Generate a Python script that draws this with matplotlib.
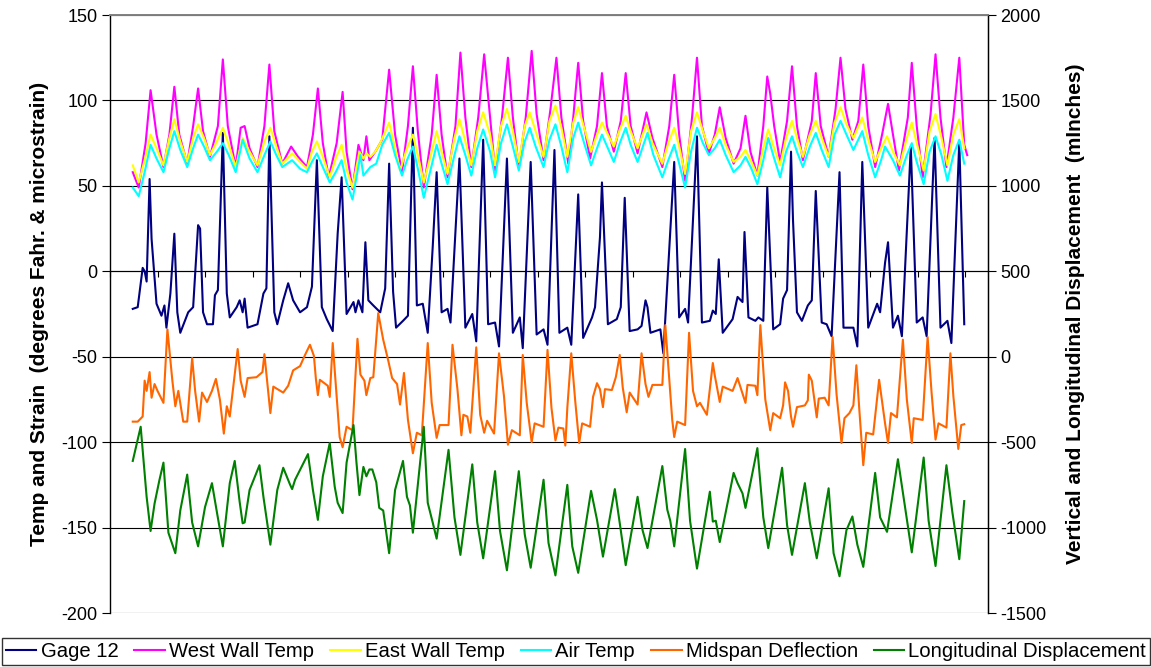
import matplotlib
matplotlib.use("Agg")
import matplotlib.pyplot as plt
import numpy as np

plt.rcParams['font.family'] = ['Liberation Sans', 'DejaVu Sans']
plt.rcParams['axes.unicode_minus'] = False

# ---------------- data (time in hours, values as read) ----------------
gage_t = [23,28,33,35,37,40,42,47,52,55,57,61,65,68,71,79,84,89,91,94,98,104,106,109,114,118,121,128,131,134,136,139,149,155,158,161,166,169,175,180,185,192,199,204,209,214,219,225,230,234,239,246,248,251,255,258,261,266,273,278,282,286,289,296,301,306,310,316,321,326,330,335,341,344,353,359,366,370,377,382,389,393,401,407,414,417,425,431,438,442,449,454,462,466,473,478,487,490,495,497,503,512,516,520,525,533,537,541,543,546,556,559,570,575,581,584,593,598,606,609,612,615,619,629,634,639,641,645,652,655,660,664,666,670,677,680,684,688,690,694,699,705,709,713,719,724,729,737,741,751,755,760,766,775,778,783,786,791,796,800,809,815,821,825,833,839,846,850,858,863]
gage_v = [-22,-21,2,0,-6,54,19,-19,-26,-20,-33,-13,22,-24,-36,-24,-21,27,25,-24,-31,-31,-14,-11,81,-13,-27,-21,-17,-24,-16,-33,-31,-13,-10,79,-24,-31,-17,-7,-17,-24,-21,-9,65,-21,-28,-35,22,55,-25,-18,-24,-17,-24,17,-17,-20,-24,-10,63,-12,-33,-29,-26,84,-20,-19,-36,14,58,-24,-22,-30,66,-33,-25,-41,77,-31,-30,-44,66,-36,-27,-45,64,-37,-34,-43,71,-36,-33,-43,45,-39,-27,-21,20,52,-31,-28,-21,43,-35,-34,-32,-17,-21,-36,-34,-48,64,-27,-22,-30,79,-30,-29,-23,-25,7,-36,-28,-15,-18,23,-27,-29,-27,-29,49,21,-34,-31,-16,-11,70,30,-24,-29,-20,-17,47,-30,-31,-38,58,-33,-33,-44,64,-33,-19,-24,5,17,-33,-26,-38,73,-30,-27,-38,78,-33,-29,-42,76,-31]

west_t = [23,29,36,41,47,54,60,65,70,78,84,89,94,101,109,114,119,127,132,136,141,149,156,161,166,174,183,190,199,205,210,215,221,229,235,239,245,251,256,259,262,268,275,282,288,295,301,306,311,317,325,330,335,341,349,354,359,365,372,378,384,389,396,402,407,413,420,426,431,438,445,451,456,463,468,473,478,485,492,497,502,509,516,521,526,533,542,548,558,565,570,575,581,588,593,598,605,611,616,622,630,637,642,647,654,660,664,667,671,677,684,689,694,700,709,713,718,726,733,738,743,750,756,761,766,773,780,786,791,797,806,810,815,821,829,834,839,845,852,858,863,866]
west_v = [58,49,75,106,80,61,80,108,80,63,85,107,82,67,85,124,85,61,84,85,72,61,85,121,82,63,73,67,61,80,107,75,55,75,105,70,48,74,65,79,65,70,77,118,80,58,85,120,82,49,80,115,80,55,85,128,90,61,90,127,90,59,90,125,90,61,90,129,92,65,95,125,90,63,90,122,88,66,85,116,85,70,88,116,85,69,93,78,61,85,115,80,53,90,125,85,69,80,96,78,63,72,91,70,56,85,114,104,85,64,88,120,85,65,88,116,85,67,95,125,95,77,88,121,85,61,80,98,80,59,90,122,85,55,92,127,90,61,90,125,74,68]

east_t = [23,29,35,41,47,54,60,65,71,78,84,89,95,101,108,114,120,127,134,141,149,156,162,168,174,184,192,199,204,209,215,222,228,234,239,245,252,256,259,263,268,273,282,288,293,300,306,311,317,325,330,335,341,348,353,359,365,371,377,384,389,395,401,407,413,419,424,430,438,444,450,456,462,468,473,479,486,492,497,503,509,515,521,526,533,542,548,558,564,570,575,581,587,593,599,605,611,616,622,630,637,642,648,654,660,665,671,677,683,689,694,700,707,713,719,726,732,738,744,751,760,766,773,779,785,791,798,805,810,815,822,828,834,840,846,852,858,863]
east_v = [62,52,65,80,72,62,78,89,76,64,78,86,78,68,76,84,74,61,78,70,62,76,84,73,63,69,64,60,70,76,67,55,66,74,60,49,70,66,69,67,70,75,87,72,59,72,80,68,52,70,82,70,57,78,89,76,62,82,93,80,62,85,95,82,64,85,93,82,67,88,97,84,67,87,96,84,70,80,87,80,73,83,91,82,72,86,75,63,75,84,73,57,82,93,82,72,78,84,74,64,67,71,64,56,72,83,72,62,78,88,78,67,80,88,78,67,87,96,86,78,90,77,64,72,79,70,62,78,87,75,59,82,92,78,62,80,89,72]

air_t = [23,29,35,41,47,54,60,65,71,78,84,89,95,101,108,114,120,127,134,141,149,156,162,168,174,184,192,199,204,209,215,222,228,234,239,245,253,256,263,269,275,282,288,295,300,306,311,317,325,330,335,341,348,353,359,365,371,377,384,389,395,401,407,413,419,424,430,438,444,450,456,462,468,473,479,486,492,497,503,509,515,521,526,533,543,549,558,564,570,575,581,587,593,599,605,611,616,622,630,637,642,648,654,660,665,671,677,683,689,694,700,707,713,719,726,732,738,744,751,760,766,773,779,783,791,798,805,810,815,822,828,834,840,846,852,858,863]
air_v = [49,44,58,74,66,58,72,82,71,61,72,80,73,65,70,75,68,58,77,66,58,68,76,68,61,65,60,58,64,69,61,52,58,65,52,42,68,56,61,63,74,81,68,56,65,73,60,43,62,74,63,51,68,79,68,56,72,83,70,55,75,86,73,59,76,84,73,61,77,86,73,58,78,87,75,62,72,80,72,64,75,84,74,64,81,68,55,65,74,63,49,70,84,75,68,72,77,68,58,62,67,60,51,65,78,66,55,70,79,70,61,73,81,71,61,80,88,80,71,82,68,55,65,73,65,56,68,75,64,51,70,79,68,53,68,77,63]

mid_t = [23,28,33,35,37,40,42,45,48,54,58,63,66,69,74,78,83,86,90,93,98,103,107,111,115,118,121,129,132,136,139,148,154,156,159,162,165,175,180,185,192,197,202,206,208,210,212,220,222,225,229,232,235,239,245,250,253,257,259,263,266,271,276,281,285,290,293,297,301,306,310,315,321,325,330,333,342,346,351,355,357,361,364,370,374,378,381,388,393,398,402,406,414,417,421,426,429,438,442,446,450,453,458,460,462,466,470,474,477,485,488,492,495,498,500,507,511,515,518,522,525,533,537,541,544,548,558,561,565,568,570,573,581,585,589,593,596,603,606,609,611,616,619,629,634,637,642,644,652,654,657,662,667,670,677,680,682,685,688,690,694,702,705,706,709,714,716,722,726,730,734,739,742,747,751,754,757,761,764,771,777,782,783,786,789,795,801,805,810,812,821,826,830,834,837,845,849,852,855,857,860,863]
mid_v = [-380,-380,-350,-140,-200,-90,-240,-160,-200,-270,160,-140,-290,-200,-380,-380,-7,-200,-380,-210,-265,-200,-130,-250,-450,-290,-350,45,-140,-235,-125,-120,-90,15,-160,-330,-175,-210,-170,-80,-55,10,70,5,-130,-225,-135,-170,-235,80,-230,-470,-530,-410,-430,105,-105,-140,-225,-125,-120,255,100,-20,-125,-160,-280,-95,-370,-565,-445,-460,80,-270,-475,-400,-400,70,-190,-460,-340,-350,-445,55,-340,-445,-375,-450,20,-230,-515,-430,-460,10,-270,-500,-390,-410,40,-300,-490,-415,-420,-520,-300,20,-260,-505,-390,-410,-235,-155,-190,-295,-190,-195,-120,10,-180,-325,-210,-280,20,-160,-235,-165,-165,185,-130,-370,-470,-380,-400,140,-200,-290,-270,-340,-190,-37,-110,-265,-175,-200,-125,-180,-270,-165,-170,-225,185,-250,-430,-330,-360,-285,-150,-200,-350,-410,-295,-285,-255,-105,-140,-355,-245,-240,-285,115,-220,-505,-360,-330,-285,-50,-310,-635,-445,-455,-135,-350,-390,-505,-330,-355,100,-250,-505,-360,-370,115,-210,-485,-390,-415,20,-230,-415,-540,-400,-395]

long_t = [23,31,37,41,45,50,54,59,66,71,78,83,89,96,103,108,114,121,126,131,134,136,141,151,155,162,169,175,182,184,187,200,205,210,215,222,227,230,235,239,246,249,252,256,259,262,265,269,272,276,282,288,296,300,303,306,317,321,326,330,342,348,354,366,371,377,389,394,401,413,419,425,438,443,450,462,467,473,486,492,498,510,515,521,533,538,543,558,563,566,570,581,586,593,606,609,612,616,630,634,639,642,654,660,665,679,684,689,702,707,714,726,731,737,744,750,755,761,773,778,785,796,804,810,822,827,834,845,851,858,863]
long_v = [-610,-410,-820,-1020,-860,-720,-620,-1030,-1150,-900,-690,-970,-1110,-880,-740,-910,-1110,-740,-610,-850,-975,-970,-780,-635,-820,-1100,-780,-650,-750,-775,-720,-570,-780,-955,-700,-505,-760,-855,-915,-620,-400,-620,-810,-645,-700,-660,-660,-735,-885,-900,-1150,-780,-610,-820,-870,-1030,-410,-855,-970,-1065,-545,-940,-1160,-630,-970,-1180,-670,-1020,-1250,-670,-1040,-1235,-720,-1090,-1280,-750,-1110,-1265,-785,-955,-1170,-775,-975,-1220,-820,-1015,-1120,-640,-895,-960,-1110,-540,-960,-1240,-790,-965,-960,-1085,-680,-740,-800,-885,-535,-940,-1120,-650,-985,-1160,-740,-970,-1180,-770,-1150,-1285,-1015,-935,-1100,-1230,-680,-940,-1025,-600,-910,-1145,-590,-960,-1225,-635,-910,-1185,-845]

series_names = ["Gage 12", "West Wall Temp", "East Wall Temp", "Air Temp",
                "Midspan Deflection", "Longitudinal Displacement"]
left_ticks = [-200, -150, -100, -50, 0, 50, 100, 150]
right_ticks = [-1500, -1000, -500, 0, 500, 1000, 1500, 2000]
left_label = "Temp and Strain  (degrees Fahr. & microstrain)"
right_label = "Vertical and Longitudinal Displacement  (mInches)"

# ---------------- figure ----------------
W, H = 1151, 667
fig = plt.figure(figsize=(W / 100, H / 100), dpi=100)
L, R, T, B = 110, 988, 15, 613
ax = fig.add_axes([L / W, 1 - B / H, (R - L) / W, (B - T) / H])
ax2 = ax.twinx()

lw = 1.5
colors = ["#000080", "#FF00FF", "#FFFF00", "#00FFFF", "#FF6600", "#008000"]
h1, = ax.plot(gage_t, gage_v, color=colors[0], lw=lw)
h2, = ax.plot(west_t, west_v, color=colors[1], lw=lw)
h3, = ax.plot(east_t, east_v, color=colors[2], lw=lw)
h4, = ax.plot(air_t, air_v, color=colors[3], lw=lw)
h5, = ax2.plot(mid_t, mid_v, color=colors[4], lw=lw)
h6, = ax2.plot(long_t, long_v, color=colors[5], lw=lw)

ax.set_xlim(0, 887)
ax.set_ylim(-200, 150)
ax2.set_ylim(-1500, 2000)
ax.set_yticks(left_ticks)
ax2.set_yticks(right_ticks)
ax.grid(axis='y', color='black', lw=0.8)
ax.set_axisbelow(True)

# category axis crossing at 0
ax.spines['bottom'].set_position(('data', 0))
ax.spines['bottom'].set_linewidth(0.8)
ax.set_xticks(np.arange(0, 887, 48))
ax.tick_params(axis='x', direction='out', length=4, width=0.8, labelbottom=False)
for a in (ax, ax2):
    a.spines['top'].set_color('#808080')
    a.spines['top'].set_linewidth(1.2)
ax2.spines['bottom'].set_visible(False)
ax.spines['left'].set_linewidth(1.0)
ax2.spines['right'].set_linewidth(1.0)
ax2.spines['left'].set_visible(False)

fs_tick = 13
fs_lab = 15
ax.tick_params(axis='y', direction='out', length=6, width=0.8, labelsize=fs_tick, pad=3)
ax2.tick_params(axis='y', direction='out', length=6, width=0.8, labelsize=fs_tick, pad=3)
ax.set_ylabel(left_label, fontsize=fs_lab, fontweight='bold')
ax2.set_ylabel(right_label, fontsize=fs_lab, fontweight='bold')
ax.yaxis.set_label_coords(-0.0695, 0.5)
ax2.yaxis.set_label_coords(1.089, 0.5)

fs_leg = 14.6
leg = fig.legend([h1, h2, h3, h4, h5, h6], series_names, loc='lower left',
                 bbox_to_anchor=(2 / W, 2 / H), ncol=6, frameon=True,
                 fancybox=False, edgecolor='black', borderaxespad=0,
                 fontsize=fs_leg, handlelength=1.5, handletextpad=0.2,
                 columnspacing=0.8, borderpad=0.2)
leg.get_frame().set_linewidth(1.0)

fig.savefig("out.png", dpi=100)
